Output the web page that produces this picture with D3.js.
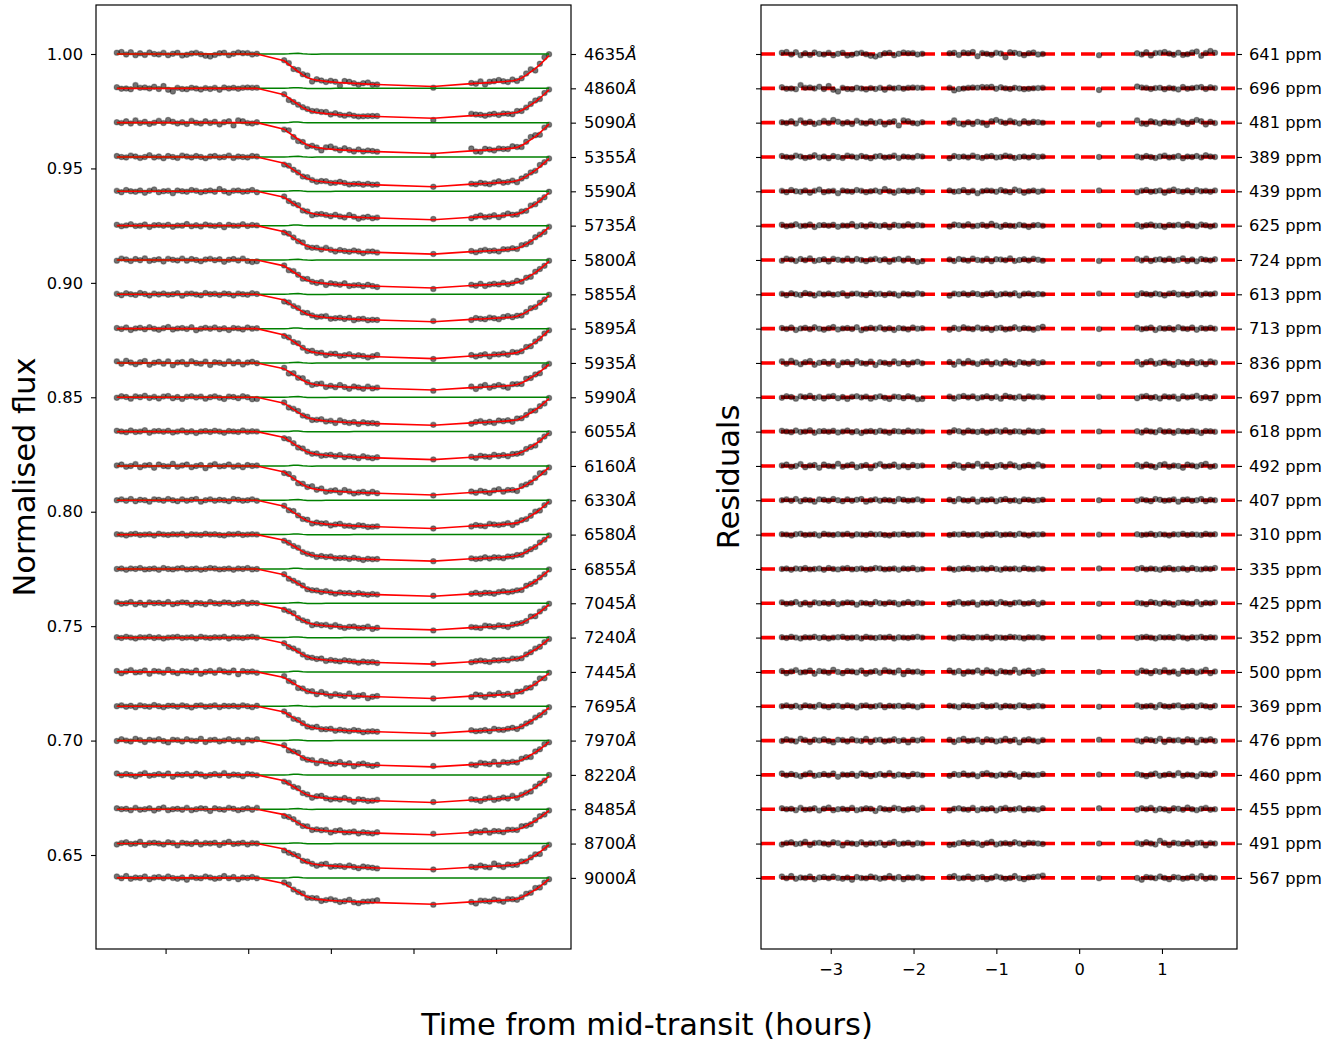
<!DOCTYPE html>
<html><head><meta charset="utf-8">
<script src="https://cdn.jsdelivr.net/npm/d3@7"></script>
<style>
body{margin:0;background:#fff}
svg{display:block}
text{font-family:"DejaVu Sans",sans-serif;fill:#000}
</style>
</head><body>
<svg id="chart" width="1341" height="1041"></svg>
<script>
// ---------- DATA ----------
const times = [
 -3.590,-3.534,-3.477,-3.421,-3.364,-3.308,-3.251,-3.195,-3.138,-3.082,-3.025,-2.969,-2.912,-2.856,-2.799,-2.743,-2.686,-2.630,-2.573,-2.517,-2.460,-2.404,-2.347,-2.291,-2.234,-2.178,-2.121,-2.065,-2.008,-1.952,-1.895,
 -1.565,-1.509,-1.452,-1.396,-1.340,-1.284,-1.227,-1.171,-1.115,-1.059,-1.002,-0.946,-0.890,-0.834,-0.777,-0.721,-0.665,-0.609,-0.552,-0.496,-0.440,
 0.240,
 0.700,0.755,0.811,0.866,0.921,0.976,1.032,1.087,1.142,1.198,1.253,1.308,1.364,1.419,1.474,1.529,1.585,1.640];

const wavelengths = [4635,4860,5090,5355,5590,5735,5800,5855,5895,5935,5990,6055,6160,6330,6580,6855,7045,7240,7445,7695,7970,8220,8485,8700,9000];
const rmsPpm = [641,696,481,389,439,625,724,613,713,836,697,618,492,407,310,335,425,352,500,369,476,460,455,491,567];
const transitDepthPpm = [14200,13100,13500,13000,12450,12450,12250,12000,13100,11800,12250,12250,12700,12350,11600,11950,11650,11600,11600,11900,11500,12050,11150,11350,11500];

// transit shape (x1000, 1000 = deepest point)
const transitShape = [
 0,0,0,0,0,0,0,0,0,0,0,0,0,0,0,0,0,0,0,0,0,0,0,0,0,0,0,0,0,0,0,
 210,330,450,560,650,720,770,800,820,840,855,868,878,888,897,905,913,920,927,933,938,
 1000,
 912,905,898,890,882,873,863,852,840,825,800,740,650,550,450,330,190,50];

// systematics model deviation (ppm)
const systematicsPpm = [
 0,0,0,0,0,0,0,0,0,0,0,0,0,0,0,0,0,0,0,0,0,0,0,0,0,0,0,0,0,0,0,
 0,100,250,300,100,-50,-80,-60,-50,-40,-30,-20,-20,-10,-10,0,0,0,0,0,0,
 0,
 0,0,0,0,0,0,0,0,0,0,0,0,0,0,0,0,0,0];

// residuals, units of 100 ppm
const residuals = [
 [6,9,-2,8,-5,3,-4,7,0,-2,5,-6,1,6,-7,-3,2,5,-1,-8,-11,-4,3,6,-6,1,7,3,4,-2,1, 3,6,-4,7,3,9,-10,4,1,-3,5,2,-14,8,6,1,-5,3,7,-2,0, -5, 3,-2,8,-7,4,5,9,2,-3,6,-4,-1,7,11,-8,4,13,6],
 [5,-2,-1,-4,14,2,4,-1,7,-3,10,-6,-14,2,-3,-4,3,-1,-5,1,-3,2,-6,4,-1,3,-2,2,4,2,3, 2,-9,-3,-1,2,4,3,6,5,7,-2,5,0,-3,3,-1,-4,-2,0,1,2, -7, 8,4,2,-3,1,3,-4,2,-1,-5,6,-2,1,4,6,-3,5,1],
 [2,-2,6,-4,10,-2,4,-6,0,8,-2,12,4,-4,2,-6,8,0,-4,6,-2,4,-8,2,6,-12,10,6,-2,-4,2, -2,10,-4,-8,2,-6,4,0,-10,6,12,4,-2,8,2,-4,6,-2,4,2,0, -8, 10,-4,-6,6,2,-4,4,0,-2,8,2,-6,4,12,6,-8,4,-2],
 [4,0,-2,6,2,-4,0,8,-2,2,-6,4,0,-4,6,2,-2,4,0,-6,2,4,-2,0,6,-4,2,0,-2,4,2, -6,4,0,2,-2,6,0,-4,2,4,-2,0,6,2,-4,0,2,-2,4,0,2, 0, 2,-2,4,0,-4,2,6,-2,0,4,-6,2,0,4,-2,8,2,0],
 [2,-4,6,0,-2,4,-6,2,8,-4,0,2,-8,4,0,-2,6,2,-4,0,4,-2,10,0,-6,2,4,-2,0,6,-4, 4,-2,0,6,-4,2,-8,0,4,2,-2,6,0,-4,8,2,-6,0,4,-2,2, 4, -4,2,6,-2,0,4,-6,2,8,0,-2,4,-4,6,0,2,-2,4],
 [4,-3,1,6,-2,0,5,-6,2,3,-1,4,-5,1,0,7,-3,2,-4,5,1,-2,3,-7,4,0,-1,6,-2,3,1, -4,5,2,-1,6,-3,0,4,-2,8,1,-5,3,0,-2,4,1,-6,2,3,-1, 1, 3,-4,2,5,-1,0,-6,3,1,4,-2,7,0,-3,5,2,-4,1],
 [-3,6,2,-5,4,-1,7,-4,0,3,-7,5,1,-2,6,-3,4,0,-6,2,5,-1,3,-8,1,4,-2,6,-4,-9,-6, 2,-5,4,1,-3,6,0,-2,5,-6,3,2,-1,7,-4,0,3,-2,5,1,-3, -4, 4,-2,6,-5,1,3,-1,5,-3,0,7,-4,2,-6,4,1,-2,3],
 [2,-4,5,0,-3,6,1,-5,3,-1,4,-2,0,5,-6,2,3,-1,-4,6,0,2,-3,4,1,-5,3,0,-2,5,1, -6,3,0,4,-2,5,1,-3,2,6,-4,0,3,-1,5,-5,2,4,-2,1,0, 3, -3,5,1,-2,4,0,-5,3,6,-1,2,-4,1,5,-2,3,0,4],
 [3,-2,5,-6,1,4,-3,6,0,-5,2,7,-4,1,3,-2,6,-7,0,4,-1,5,-3,2,-6,3,1,-4,5,0,2, -5,4,-2,6,1,-3,5,-1,3,-6,2,4,-4,0,6,-2,3,1,-5,2,8, -2, 4,-3,1,5,-6,2,0,3,-4,6,1,-2,5,-5,3,0,4,-1],
 [7,-4,10,2,-6,3,9,-8,1,5,-3,7,-10,2,4,-6,8,0,-3,6,-9,3,1,-5,7,-2,4,-7,2,5,-1, 4,-8,6,-2,9,1,-5,3,7,-6,2,-3,8,0,-7,4,1,-4,6,-1,3, -3, 5,-7,3,9,-4,1,6,-2,-9,4,2,-5,8,-1,3,-6,7,2],
 [-2,5,1,-6,4,0,7,-3,2,-5,3,6,-4,1,-7,2,5,-1,3,-6,0,4,-2,-8,3,1,-4,5,0,-9,-7, 3,-5,2,6,-1,4,-4,0,5,-3,2,-6,7,1,-2,3,-5,4,0,2,-1, 2, -4,3,6,-2,1,-5,4,0,3,-6,5,-1,2,7,-3,1,-4,3],
 [4,1,-3,5,-2,0,6,-5,2,3,-1,4,-4,0,5,-3,2,-6,1,3,-2,4,0,-5,3,1,-2,5,-1,2,0, -3,6,2,-4,5,1,-2,3,-5,0,4,-1,6,-3,2,0,-4,5,1,-2,3, 1, 2,-4,5,0,-3,6,-1,2,-5,3,1,-2,4,0,-6,3,2,-1],
 [2,6,-4,0,8,-6,2,4,-8,6,0,-2,10,-4,2,6,-6,0,4,-10,2,8,-2,0,6,-4,2,-6,4,0,2, -4,6,2,-8,4,0,10,-2,6,-6,0,4,-4,8,2,-6,0,4,-2,6,0, -2, 4,-2,6,0,-6,4,8,-4,2,0,-8,6,2,-2,4,10,-4,0],
 [0,4,-2,6,-4,2,0,-6,4,2,-2,6,0,-4,4,-2,2,6,-6,0,4,-2,2,0,-4,6,2,-2,0,4,-2, 2,-4,6,0,-2,4,-6,2,0,4,-4,2,6,-2,0,-4,4,2,-2,0,2, 0, -2,4,0,-4,6,2,-2,0,4,-6,2,4,-2,0,6,-4,2,0],
 [2,0,-4,2,4,-2,0,2,-4,4,0,-2,2,0,4,-4,2,0,-2,4,0,2,-2,-4,2,0,4,-2,0,2,0, -2,2,0,4,-2,0,2,-4,2,0,4,-2,0,2,-2,4,0,-4,2,0,2, 0, 2,-2,0,4,-2,2,0,-4,2,0,4,-2,2,0,-2,4,0,2],
 [0,2,-4,2,0,4,-2,0,2,-4,4,0,-2,2,4,-2,0,2,-4,0,4,2,-2,0,2,-4,2,0,4,-2,0, 2,-4,0,2,4,-2,0,2,-2,4,0,-4,2,0,2,-2,4,0,-2,2,0, 2, 0,4,-2,2,0,-4,2,4,-2,0,2,-4,4,0,-2,2,0,4],
 [4,-2,0,6,-4,2,-6,4,0,2,-2,6,-4,0,4,2,-6,2,0,-4,6,0,-2,4,2,-4,0,6,-2,2,0, -4,2,6,-2,0,4,-6,2,0,4,-2,6,0,-4,2,4,-2,0,6,-4,2, -2, 2,0,-4,6,2,-2,4,0,-6,2,4,0,-2,6,-4,2,0,4],
 [2,-2,4,0,-4,2,0,4,-2,2,-4,0,2,4,-2,0,2,-4,4,0,-2,2,0,4,-4,2,0,-2,2,4,0, 0,-4,2,4,0,-2,2,0,4,-4,2,0,-2,4,2,0,-4,2,0,2,-2, 2, -2,2,4,0,-4,2,0,2,-2,4,0,-4,2,0,4,-2,2,0],
 [4,-6,2,8,-2,0,6,-8,4,2,-4,10,0,-6,4,2,-2,6,-8,0,4,-4,8,2,-2,6,-10,4,0,2,-4, 6,-2,4,-8,2,0,6,-4,8,2,-6,4,0,-2,10,-4,2,6,-8,0,4, 0, -4,6,2,-6,4,0,8,-2,2,-8,6,0,4,-4,2,10,-6,2],
 [0,4,-2,2,-4,4,0,-2,6,0,-4,2,2,-2,4,0,-6,2,4,-2,0,4,-4,2,0,2,-2,4,0,-4,2, 2,0,-4,4,2,-2,0,6,-2,0,4,-4,2,0,-2,4,2,-4,0,2,0, -2, 4,-2,0,2,-4,6,0,-2,2,4,-4,0,2,-2,4,0,-4,2],
 [-2,6,0,-4,8,2,-6,4,0,6,-2,-8,4,2,-4,6,0,-2,8,-6,2,4,-4,0,6,-2,2,-8,4,0,6, 4,-6,2,8,-2,0,4,-6,6,2,-4,0,8,-2,4,-8,2,6,0,-4,2, 4, 0,-4,6,2,-2,8,-6,4,0,2,-4,6,2,-8,4,0,6,-2],
 [6,-2,4,0,-6,2,8,-4,0,4,-2,6,-8,2,0,4,-4,6,2,-6,0,4,-2,8,-4,2,0,-6,4,2,-2, -4,4,0,6,-2,2,-6,4,8,0,-4,2,-2,6,0,-8,4,2,-2,0,4, 2, 4,0,-6,2,6,-4,0,4,-2,8,-4,2,0,-6,4,2,-2,6],
 [4,0,2,-4,6,-2,0,4,-6,2,8,-4,0,2,-2,6,-4,0,4,2,-8,4,0,-2,6,2,-4,0,4,-2,6, -6,2,4,0,-2,6,-4,2,0,4,-6,2,6,-2,0,4,-4,2,0,-2,4, 4, -2,4,0,6,-4,2,0,-6,4,2,-2,8,0,-4,2,6,-2,0],
 [-4,2,6,-2,0,8,-6,2,4,0,-4,6,2,-8,4,0,-2,6,-4,2,0,4,-6,2,8,-2,0,4,-4,2,0, -6,-4,2,6,-2,4,0,-6,2,8,-4,0,2,-2,6,0,-4,4,2,0,-2, 0, 2,-2,6,0,-4,12,2,-6,4,0,-2,6,-4,2,4,-8,2,0],
 [6,-2,8,-4,2,0,6,-6,2,4,-2,6,0,-4,2,-8,4,0,-2,6,2,-4,0,8,-2,4,-6,2,0,4,-2, 4,8,-2,0,6,-4,2,4,-6,0,6,2,-4,0,8,-2,-6,2,4,6,10, -2, 0,-8,4,2,-2,6,0,-6,4,2,-4,0,6,-2,8,-4,2,0]
];

const offsetStep = 0.015;
const fluxTicks = [0.65,0.70,0.75,0.80,0.85,0.90,0.95,1.00];
const timeTicks = [-3,-2,-1,0,1];

// ---------- LAYOUT ----------
const svg = d3.select("#chart");
const TOP = 5, BOTTOM = 949;
const xDomain = [-3.842, 1.906];
const xL = d3.scaleLinear().domain(xDomain).range([96, 571]);
const xR = d3.scaleLinear().domain(xDomain).range([761, 1237]);
const y = d3.scaleLinear().domain([0.60893, 1.02141]).range([BOTTOM, TOP]);

const baselines = wavelengths.map((w, i) => 1 - offsetStep * i);

const defs = svg.append("defs");
defs.append("clipPath").attr("id","clipL").append("rect")
  .attr("x",96).attr("y",TOP).attr("width",475).attr("height",BOTTOM-TOP);
defs.append("clipPath").attr("id","clipR").append("rect")
  .attr("x",761).attr("y",TOP).attr("width",476).attr("height",BOTTOM-TOP);

function drawPoints(sel){
  sel.attr("r", 2.7)
    .attr("fill", "#000").attr("fill-opacity", 0.55)
    .attr("stroke", "#000").attr("stroke-opacity", 0.3).attr("stroke-width", 1.1);
}

// ---------- LEFT PANEL ----------
const gL = svg.append("g").attr("clip-path","url(#clipL)");
const line = d3.line();
wavelengths.forEach((w, i) => {
  const base = baselines[i];
  const sys = times.map((t, j) => base + systematicsPpm[j] * 1e-6);
  const model = times.map((t, j) => sys[j] - transitDepthPpm[i] * transitShape[j] / 1000 * 1e-6);
  const pts = times.map((t, j) => [t, model[j] + residuals[i][j] * 1e-4]);
  const g = gL.append("g");
  g.selectAll("circle").data(pts).join("circle")
    .attr("cx", d => xL(d[0])).attr("cy", d => y(d[1])).call(drawPoints);
  g.append("path").attr("d", line(times.map((t, j) => [xL(t), y(sys[j])])))
    .attr("fill","none").attr("stroke","#008000").attr("stroke-width",1.5);
  g.append("path").attr("d", line(times.map((t, j) => [xL(t), y(model[j])])))
    .attr("fill","none").attr("stroke","#ff0000").attr("stroke-width",1.6);
});

// ---------- RIGHT PANEL ----------
const gR = svg.append("g").attr("clip-path","url(#clipR)");
wavelengths.forEach((w, i) => {
  const base = baselines[i];
  gR.append("line")
    .attr("x1", xR.range()[0]).attr("x2", xR.range()[1])
    .attr("y1", y(base)).attr("y2", y(base))
    .attr("stroke","#ff0000").attr("stroke-width",3.6).attr("stroke-dasharray","14,6");
});
wavelengths.forEach((w, i) => {
  const base = baselines[i];
  const pts = times.map((t, j) => [t, base + residuals[i][j] * 1e-4]);
  gR.append("g").selectAll("circle").data(pts).join("circle")
    .attr("cx", d => xR(d[0])).attr("cy", d => y(d[1])).call(drawPoints);
});

// ---------- AXES ----------
function styleAxis(g){
  g.select(".domain").remove();
  g.selectAll(".tick line").attr("stroke","#000").attr("stroke-width",1.1);
  g.selectAll(".tick text").attr("font-size","16.3px").attr("font-family","DejaVu Sans").attr("fill","#000");
}
// left panel
svg.append("g").attr("transform","translate(96,0)")
  .call(d3.axisLeft(y).tickValues(fluxTicks).tickFormat(d3.format(".2f")).tickSize(5).tickPadding(8))
  .call(styleAxis);
const ra = svg.append("g").attr("transform","translate(571,0)")
  .call(d3.axisRight(y).tickValues(baselines).tickFormat("").tickSize(5).tickPadding(8))
  .call(styleAxis);
ra.selectAll(".tick text").each(function(d, i){
  const t = d3.select(this);
  t.text(null);
  t.append("tspan").text(wavelengths[i]);
  t.append("tspan").attr("font-style","italic").text("Å");
});
svg.append("g").attr("transform",`translate(0,${BOTTOM})`)
  .call(d3.axisBottom(xL).tickValues(timeTicks).tickFormat("").tickSize(5))
  .call(styleAxis);
// right panel
svg.append("g").attr("transform","translate(761,0)")
  .call(d3.axisLeft(y).tickValues(baselines).tickFormat("").tickSize(5))
  .call(styleAxis);
svg.append("g").attr("transform","translate(1237,0)")
  .call(d3.axisRight(y).tickValues(baselines).tickFormat((d, i) => rmsPpm[i] + " ppm").tickSize(5).tickPadding(7))
  .call(styleAxis);
svg.append("g").attr("transform",`translate(0,${BOTTOM})`)
  .call(d3.axisBottom(xR).tickValues(timeTicks).tickFormat(d3.format("d")).tickSize(5).tickPadding(9))
  .call(styleAxis);

// frames
[[96,571],[761,1237]].forEach(([a,b]) => {
  svg.append("rect").attr("x",a).attr("y",TOP).attr("width",b-a).attr("height",BOTTOM-TOP)
    .attr("fill","none").attr("stroke","#000").attr("stroke-width",1.2);
});

// labels
svg.append("text").attr("transform","translate(35,477) rotate(-90)")
  .attr("text-anchor","middle").attr("font-size","30.5px").text("Normalised flux");
svg.append("text").attr("transform","translate(739,477) rotate(-90)")
  .attr("text-anchor","middle").attr("font-size","30.5px").text("Residuals");
svg.append("text").attr("x",647).attr("y",1035)
  .attr("text-anchor","middle").attr("font-size","30.5px").text("Time from mid-transit (hours)");
</script>
</body></html>
